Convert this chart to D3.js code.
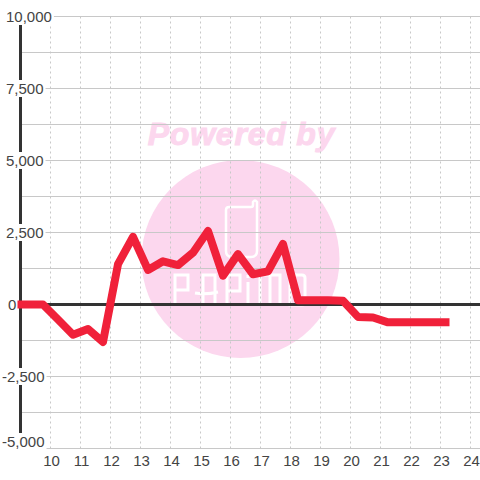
<!DOCTYPE html>
<html>
<head>
<meta charset="utf-8">
<script src="https://cdnjs.cloudflare.com/ajax/libs/d3/7.8.5/d3.min.js"></script>
<style>
html, body { margin: 0; padding: 0; background: #fff; }
svg { display: block; }
</style>
</head>
<body>
<div id="chart"></div>
<script>
// half hour readings, taken at quarter past / quarter to
var hours = [8.9, 9.75, 10.25, 10.75, 11.25, 11.75, 12.25, 12.75, 13.25, 13.75, 14.25, 14.75, 15.25,
    15.75, 16.25, 16.75, 17.25, 17.75, 18.25, 18.75, 19.25, 19.75, 20.25, 20.75, 21.25, 21.75,
    22.25, 22.75, 23.3];
var values = [0, 0, -520, -1050, -850, -1300, 1400, 2350, 1200, 1500, 1370, 1800, 2550,
    1000, 1750, 1050, 1150, 2100, 150, 150, 150, 130, -430, -450, -620, -620,
    -620, -620, -620];
var xTicks = [10, 11, 12, 13, 14, 15, 16, 17, 18, 19, 20, 21, 22, 23, 24];
var yTicks = [10000, 7500, 5000, 2500, 0, -2500, -5000];
var yGrid = [10000, 8750, 7500, 6250, 5000, 3750, 2500, 1250, -1250, -2500, -3750, -5000];

var width = 480, height = 480;

var x = d3.scaleLinear().domain([10, 24]).range([50.5, 470.5]);
var y = d3.scaleLinear().domain([10000, -5000]).range([16.5, 448.5]);

var svg = d3.select("#chart").append("svg")
    .attr("width", width)
    .attr("height", height);

svg.append("rect")
    .attr("width", width)
    .attr("height", height)
    .attr("fill", "#fff");

// watermark goes underneath the grid
var mark = svg.append("g");
mark.append("text")
    .attr("x", 241.5)
    .attr("y", 145)
    .attr("text-anchor", "middle")
    .style("font-family", "'Liberation Sans'")
    .style("font-size", "32px")
    .style("font-weight", "bold")
    .style("font-style", "italic")
    .style("letter-spacing", "0.8px")
    .style("fill", "#fcd7ee")
    .style("stroke", "#fcd7ee")
    .style("stroke-width", 1)
    .text("Powered by");
mark.append("circle")
    .attr("cx", 240.5)
    .attr("cy", 259)
    .attr("r", 99)
    .attr("fill", "#fcd7ee");
// phone logo and the PAPIMO lettering
mark.append("path")
    .attr("d", "M226 251V210Q226 207 229 207H251Q253 207 253 205V202Q255 199 257 202V251Q257 257 251 257H232Q226 257 226 251Z")
    .attr("fill", "none")
    .attr("stroke", "#fff")
    .attr("stroke-width", 2.5);
mark.append("path")
    .attr("d", "M175 303V275H188V290H175"
        + "M203 303V275H215V303M195 293Q206 295 218 292"
        + "M227 303V275H240V291H227"
        + "M248 305V282M248 278V275"
        + "M260 304V275H280V303M270 276V303"
        + "M290 305V275H302Q305 275 305 278V302Q305 305 302 305Z")
    .attr("fill", "none")
    .attr("stroke", "#fff")
    .attr("stroke-width", 3);

svg.append("g")
    .selectAll("line")
    .data(xTicks)
    .enter().append("line")
    .attr("x1", function(d) { return x(d); })
    .attr("x2", function(d) { return x(d); })
    .attr("y1", y(10000))
    .attr("y2", y(-5000))
    .style("stroke", "#c8c8c8")
    .style("stroke-dasharray", "2,3");

svg.append("g")
    .selectAll("line")
    .data(yGrid)
    .enter().append("line")
    .attr("x1", 20)
    .attr("x2", width)
    .attr("y1", function(d) { return y(d); })
    .attr("y2", function(d) { return y(d); })
    .style("stroke", "#c8c8c8");

// thick axis lines
svg.append("line")
    .attr("x1", 20.5).attr("x2", 20.5)
    .attr("y1", y(10000)).attr("y2", y(-5000))
    .style("stroke", "#333")
    .style("stroke-width", 3);
svg.append("line")
    .attr("x1", 20).attr("x2", width)
    .attr("y1", y(0)).attr("y2", y(0))
    .style("stroke", "#333")
    .style("stroke-width", 3);

var line = d3.line()
    .x(function(d, i) { return x(hours[i]); })
    .y(function(d) { return y(d); });

svg.append("path")
    .datum(values)
    .attr("d", line)
    .attr("fill", "none")
    .style("stroke", "#f0213a")
    .style("stroke-width", 8)
    .style("stroke-linejoin", "round");

function numFmt(d) {
    return d3.format(",")(d).replace("\u2212", "-");
}

// labels have a white box behind them which cuts the axis and grid
var yLabel = svg.append("g")
    .selectAll("g")
    .data(yTicks)
    .enter().append("g");

yLabel.append("text")
    .attr("x", function(d) { return d < 0 ? 2 : (d == 0 ? 8 : 6); })
    .attr("y", function(d) { return d == -5000 ? y(d) - 1.5 : y(d) + 5.5; })
    .style("font-family", "'Liberation Sans'")
    .style("font-size", "15px")
    .style("fill", "#444")
    .text(numFmt);

yLabel.insert("rect", "text")
    .each(function() {
        var box = this.parentNode.querySelector("text").getBBox();
        d3.select(this)
            .attr("x", box.x)
            .attr("y", box.y)
            .attr("width", box.width + 2)
            .attr("height", box.height);
    })
    .attr("fill", function(d) { return d == 0 ? "none" : "#fff"; });

svg.append("g")
    .selectAll("text")
    .data(xTicks)
    .enter().append("text")
    .attr("x", function(d) { return x(d) + 1; })
    .attr("y", 466)
    .attr("text-anchor", "middle")
    .style("font-family", "'Liberation Sans'")
    .style("font-size", "15px")
    .style("fill", "#444")
    .text(function(d) { return d; });
</script>
</body>
</html>
